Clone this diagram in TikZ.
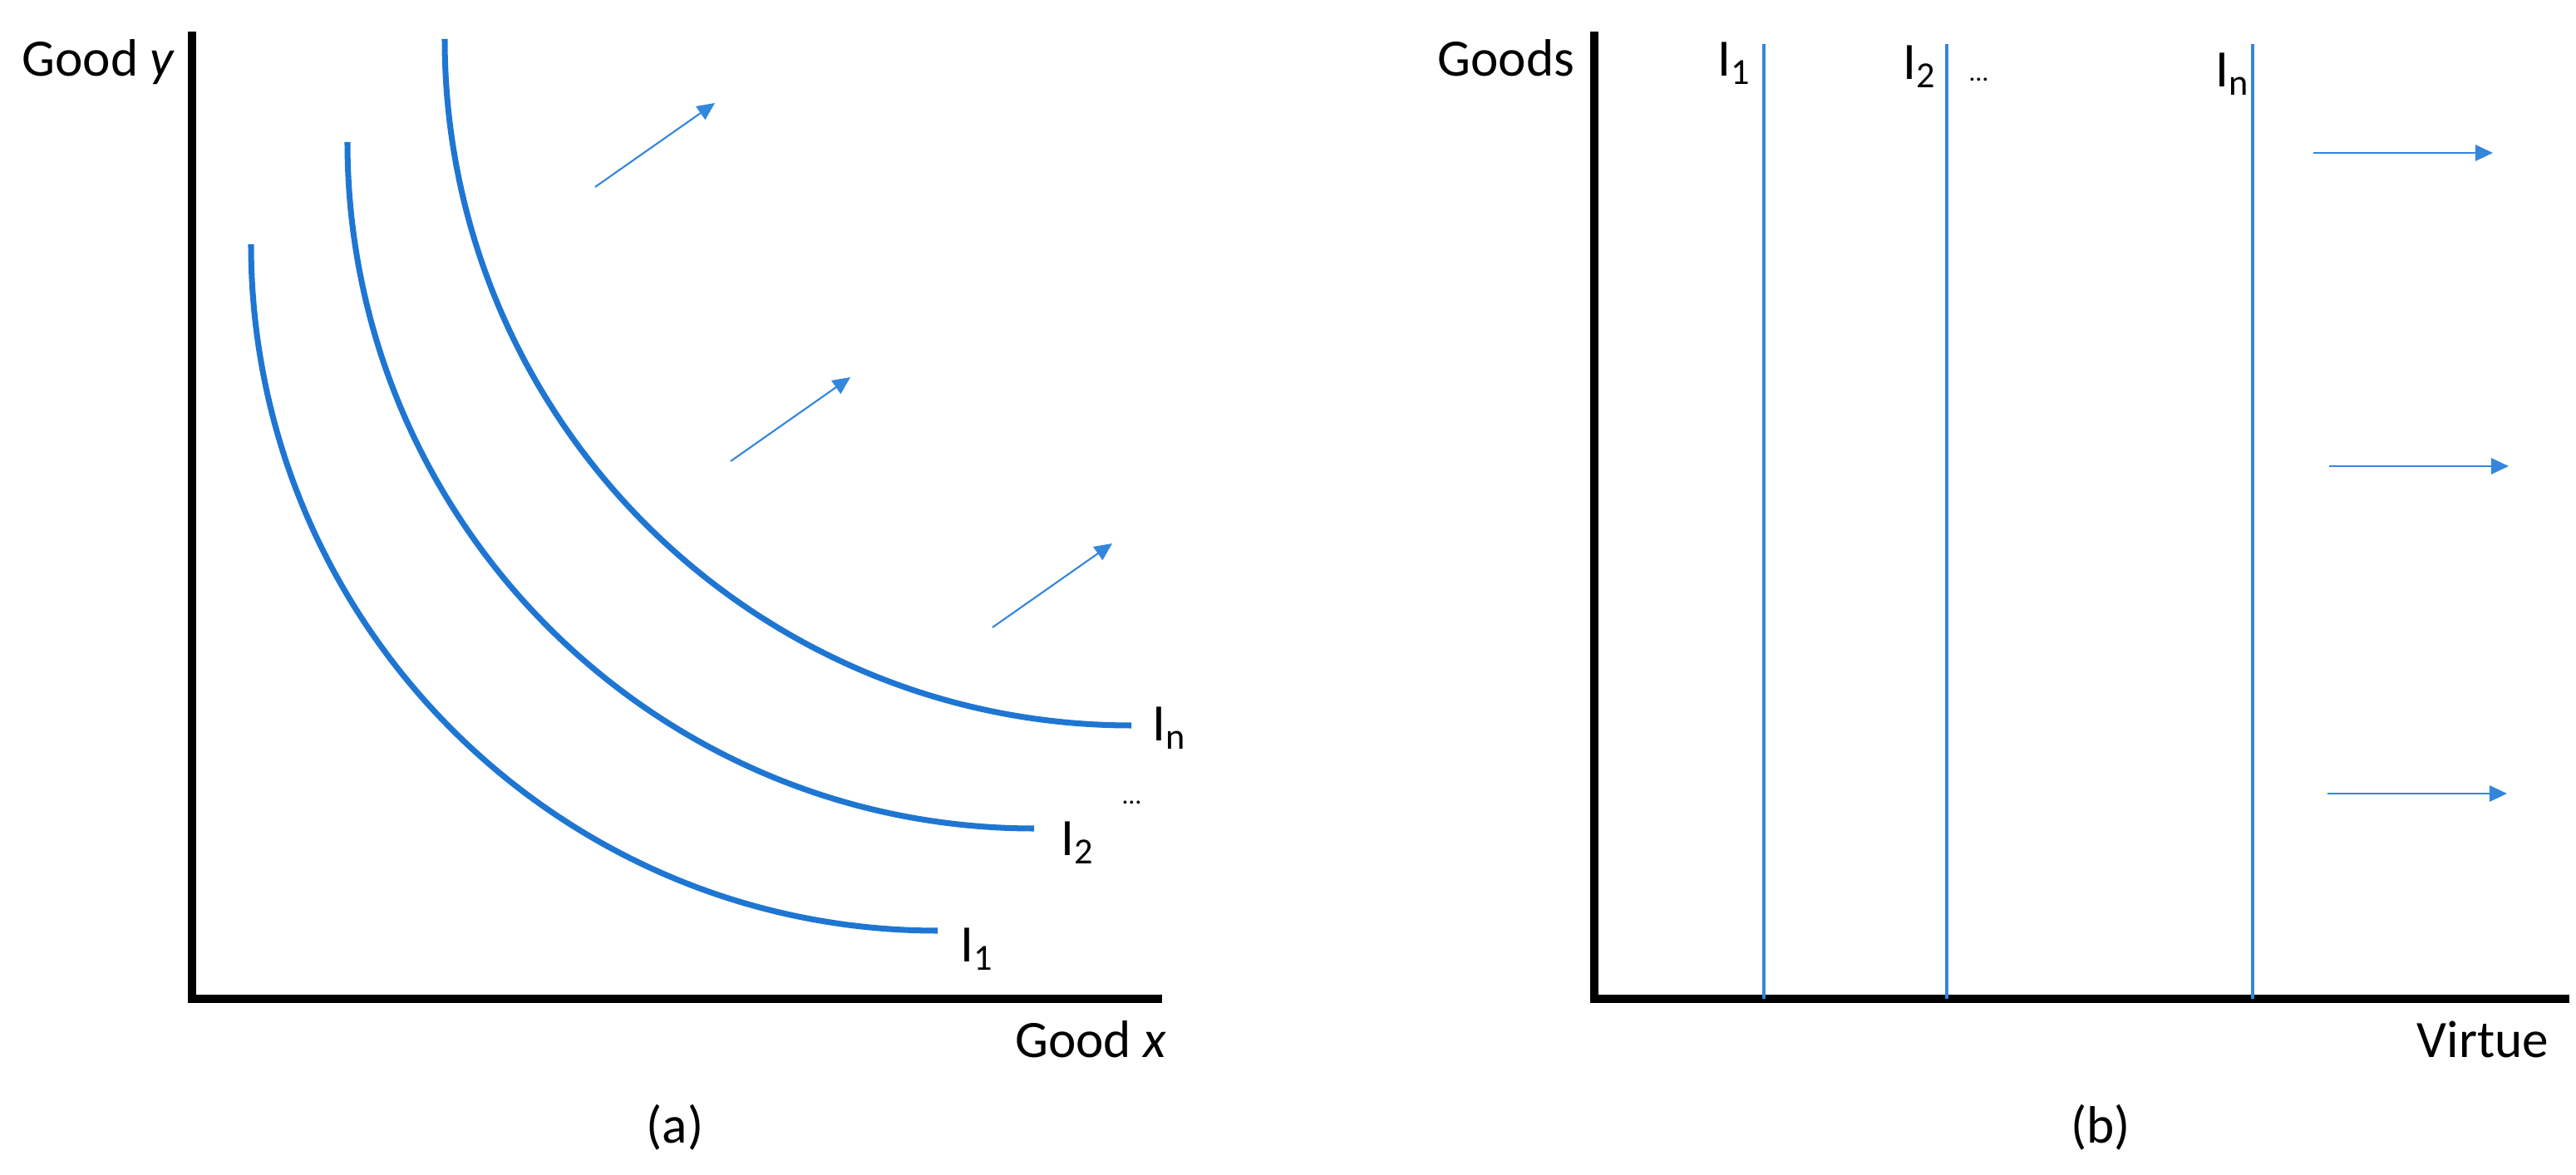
\documentclass[tikz,border=0pt]{standalone}
\usepackage{fontspec}
\setmainfont{Carlito}
\usetikzlibrary{arrows.meta,calc}
\definecolor{curveblue}{RGB}{30,118,210}
\definecolor{lineblue}{RGB}{52,134,220}
\tikzset{
	axisline/.style={line width=2.6pt, line join=miter},
	icurve/.style={curveblue, line width=2pt},
	vline/.style={lineblue, line width=1.3pt},
	shiftarrow/.style={lineblue, line width=0.6pt, -{Triangle[length=6pt,width=5.5pt]}},
	lbl/.style={inner sep=0pt, font=\fontsize{18}{22}\selectfont},
	dots/.style={inner sep=0pt, font=\fontsize{9}{10}\selectfont}
}
\begin{document}
\begin{tikzpicture}
	\useasboundingbox (0,0) rectangle (30.99,14.14);
	% (a) two goods
	\coordinate (Oa) at (2.31,2.12);
	\coordinate (Ya) at (2.31,13.76);
	\coordinate (Xa) at (13.98,2.12);
	\draw[axisline] (Ya) -- (Oa) -- (Xa);
	\node[lbl, anchor=base west] (ylabA) at (0.26,13.22) {Good \textit{y}};
	\node[lbl, anchor=base east] (xlabA) at (14.04,1.41) {Good \textit{x}};
	\node[lbl] (capA) at (8.12,0.57) {(a)};
	
	\foreach \x/\y in {3.02/11.20, 4.18/12.43, 5.35/13.67}
		\draw[icurve] (\x,\y) arc[start angle=180, end angle=270, radius=8.26];
	\node[lbl, anchor=base west] (IoneA) at (11.55,2.56) {I\textsubscript{1}};
	\node[lbl, anchor=base west] (ItwoA) at (12.76,3.84) {I\textsubscript{2}};
	\node[lbl, anchor=base west] (InA) at (13.86,5.22) {I\textsubscript{n}};
	\node[dots, anchor=base west] (dotsA) at (13.50,4.46) {\ldots};
	
	\foreach \x/\y [count=\i] in {7.16/11.89, 8.79/8.59, 11.94/6.59} {
		\coordinate (sa\i) at (\x,\y);
		\draw[shiftarrow] (sa\i) -- ++(1.44,1.01);
	}
	
	% (b) goods and virtue
	\coordinate (Ob) at (19.18,2.12);
	\coordinate (Yb) at (19.18,13.76);
	\coordinate (Xb) at (30.91,2.12);
	\draw[axisline] (Yb) -- (Ob) -- (Xb);
	\node[lbl, anchor=base west] (ylabB) at (17.29,13.22) {Goods};
	\node[lbl, anchor=base east] (xlabB) at (30.67,1.41) {Virtue};
	\node[lbl] (capB) at (25.27,0.57) {(b)};
	
	\foreach \x in {21.22, 23.42, 27.10}
		\draw[vline] (\x,2.12) -- (\x,13.61);
	\node[lbl, anchor=base west] (IoneB) at (20.66,13.22) {I\textsubscript{1}};
	\node[lbl, anchor=base west] (ItwoB) at (22.89,13.18) {I\textsubscript{2}};
	\node[lbl, anchor=base west] (InB) at (26.65,13.09) {I\textsubscript{n}};
	\node[dots, anchor=base west] (dotsB) at (23.69,13.16) {\ldots};
	
	\foreach \x/\y [count=\i] in {27.83/12.30, 28.02/8.53, 28.00/4.59} {
		\coordinate (sb\i) at (\x,\y);
		\draw[shiftarrow] (sb\i) -- ++(2.16,0);
	}
\end{tikzpicture}
\end{document}
